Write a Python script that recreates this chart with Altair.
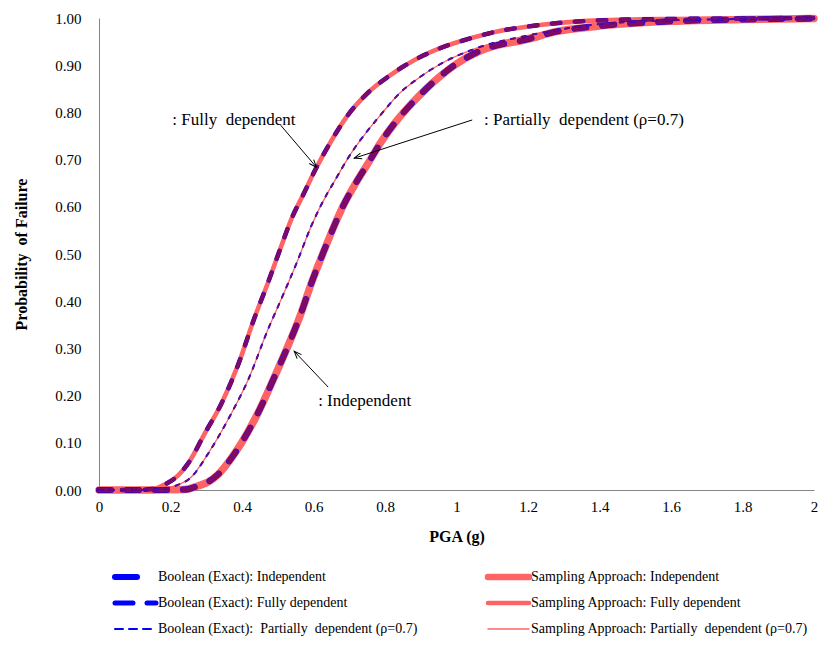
import altair as alt
import pandas as pd

# ---------------- data ----------------
curve_names = ["Independent", "Fully dependent", "Partially dependent (ρ=0.7)"]

fully_x = [0, 0.10, 0.15, 0.185, 0.22, 0.25, 0.296, 0.343, 0.389, 0.435, 0.472, 0.509, 0.537, 0.574,
           0.606, 0.65, 0.694, 0.75, 0.815, 0.88, 0.954, 1.03, 1.111, 1.2, 1.278, 1.4, 1.6, 1.8, 2.0]
fully_y = [0, 0, 0.002, 0.012, 0.03, 0.057, 0.12, 0.184, 0.265, 0.365, 0.438, 0.515, 0.572, 0.630,
           0.680, 0.74, 0.792, 0.84, 0.879, 0.91, 0.936, 0.955, 0.971, 0.982, 0.989, 0.995, 0.998, 0.999, 1.0]

partial_x = [0, 0.10, 0.17, 0.21, 0.259, 0.306, 0.37, 0.417, 0.472, 0.509, 0.556, 0.593, 0.639, 0.657,
             0.694, 0.713, 0.75, 0.787, 0.84, 0.898, 0.954, 1.056, 1.2, 1.3, 1.4, 1.6, 1.8, 2.0]
partial_y = [0, 0, 0.002, 0.008, 0.028, 0.078, 0.162, 0.233, 0.339, 0.403, 0.487, 0.558, 0.629, 0.652,
             0.700, 0.722, 0.760, 0.794, 0.84, 0.875, 0.902, 0.936, 0.963, 0.977, 0.987, 0.995, 0.998, 1.0]

indep_x = [0, 0.15, 0.24, 0.278, 0.305, 0.333, 0.365, 0.398, 0.444, 0.491, 0.528, 0.565, 0.593, 0.630,
           0.657, 0.685, 0.722, 0.759, 0.787, 0.83, 0.880, 0.944, 1.0, 1.065, 1.204, 1.278, 1.4, 1.6, 1.8, 2.0]
indep_y = [0, 0, 0.001, 0.009, 0.017, 0.033, 0.062, 0.099, 0.162, 0.24, 0.304, 0.374, 0.436, 0.508,
           0.558, 0.605, 0.655, 0.700, 0.735, 0.780, 0.823, 0.870, 0.903, 0.930, 0.956, 0.971, 0.983, 0.993, 0.997, 0.999]

x_ticks = [0, 0.2, 0.4, 0.6, 0.8, 1, 1.2, 1.4, 1.6, 1.8, 2]
y_ticks = [0, 0.1, 0.2, 0.3, 0.4, 0.5, 0.6, 0.7, 0.8, 0.9, 1.0]

NB = "\u00a0"
# annotations (data units)
ann_text = [": Fully" + NB + " dependent", ": Partially" + NB + " dependent (ρ=0.7)", ": Independent"]
ann_tx = [0.205, 1.077, 0.613]
ann_ty = [0.784, 0.784, 0.189]
arrow_x0 = [0.508, 1.044, 0.641]
arrow_y0 = [0.773, 0.784, 0.218]
arrow_x1 = [0.608, 0.714, 0.546]
arrow_y1 = [0.684, 0.703, 0.294]
arrow_ang = [138.7, 252.1, 316.6]

legend_left = ["Boolean (Exact): Independent", "Boolean (Exact): Fully dependent",
               "Boolean (Exact):" + NB + " Partially" + NB + " dependent (ρ=0.7)"]
legend_right = ["Sampling Approach: Independent", "Sampling Approach: Fully dependent",
                "Sampling Approach: Partially" + NB + " dependent (ρ=0.7)"]

# ---------------- tables ----------------
rows = []
for name, xs, ys in zip(curve_names, [indep_x, fully_x, partial_x], [indep_y, fully_y, partial_y]):
    for xv, yv in zip(xs, ys):
        rows.append({"curve": name, "pga": xv, "pf": yv})
df = pd.DataFrame(rows)

ann_df = pd.DataFrame({"text": ann_text, "tx": ann_tx, "ty": ann_ty,
                       "ax": arrow_x0, "ay": arrow_y0, "ax2": arrow_x1, "ay2": arrow_y1,
                       "ang": arrow_ang})

# ---------------- styles ----------------
FONT = "Liberation Serif"
SALMON = "#FF6464"
BLUE = "#0000FF"
PURPLE = "#7F0A66"
samp_w = {curve_names[0]: 7.5, curve_names[1]: 4.6, curve_names[2]: 1.3}
bool_w = {curve_names[0]: 6.0, curve_names[1]: 4.4, curve_names[2]: 2.0}
bool_dash = {curve_names[0]: [12, 16], curve_names[1]: [8.5, 14.5], curve_names[2]: [4, 7]}

xscale = alt.Scale(domain=[0, 2], nice=False)
yscale = alt.Scale(domain=[0, 1], nice=False)
x_axis = alt.Axis(values=x_ticks, format="~g", ticks=False, grid=False, labelFlush=False,
                  labelPadding=9, titlePadding=14)
y_axis = alt.Axis(values=y_ticks, format=".2f", ticks=False, grid=False,
                  labelPadding=18, titlePadding=25)
X_TITLE = "PGA (g)"
Y_TITLE = "Probability" + NB + " of Failure"


def xq(field):
    return alt.X(field, type="quantitative", scale=xscale, title=X_TITLE, axis=x_axis)


def yq(field):
    return alt.Y(field, type="quantitative", scale=yscale, title=Y_TITLE, axis=y_axis)


base = alt.Chart(df)
layers = []
for name in curve_names:
    layers.append(base.transform_filter(alt.datum.curve == name)
                  .mark_line(color=SALMON, strokeWidth=samp_w[name], interpolate="monotone",
                             strokeCap="round", strokeJoin="round")
                  .encode(x=xq("pga"), y=yq("pf")))
for name in curve_names:
    layers.append(base.transform_filter(alt.datum.curve == name)
                  .mark_line(color=BLUE, strokeWidth=bool_w[name], strokeDash=bool_dash[name],
                             interpolate="monotone", strokeCap="round")
                  .encode(x=xq("pga"), y=yq("pf")))
    layers.append(base.transform_filter(alt.datum.curve == name)
                  .mark_line(color=PURPLE, strokeWidth=bool_w[name] - 0.6, strokeDash=bool_dash[name],
                             interpolate="monotone", strokeCap="round")
                  .encode(x=xq("pga"), y=yq("pf")))

ann = alt.Chart(ann_df)
layers.append(ann.mark_rule(color="black", strokeWidth=1).encode(
    x=xq("ax"), y=yq("ay"), x2="ax2:Q", y2="ay2:Q"))
layers.append(ann.mark_point(shape="M-0.4,1 L0,0 L0.4,1", filled=False, color="black",
                             strokeWidth=1, size=220, opacity=1).encode(
    x=xq("ax2"), y=yq("ay2"), angle=alt.Angle("ang:Q", scale=None)))
layers.append(ann.mark_text(align="left", baseline="middle", font=FONT, fontSize=17, color="black").encode(
    x=xq("tx"), y=yq("ty"), text="text:N"))

# ---------------- custom legend (below plot) ----------------
row_y = [559, 585, 611]
leg_bool_dash = [[22, 40], [18, 14], [8, 6]]
leg_bool_w = [6, 5, 2]
leg_samp_w = [6.5, 4.5, 1.5]
for i in range(3):
    dl = alt.Chart(pd.DataFrame({"label": [legend_left[i]]}))
    layers.append(dl.mark_rule(color=BLUE, strokeWidth=leg_bool_w[i], strokeDash=leg_bool_dash[i],
                               strokeCap="round").encode(
        x=alt.value(16), x2=alt.value(57), y=alt.value(row_y[i])))
    layers.append(dl.mark_text(align="left", baseline="middle", font=FONT, fontSize=14, color="black").encode(
        x=alt.value(59), y=alt.value(row_y[i]), text="label:N"))
    dr = alt.Chart(pd.DataFrame({"label": [legend_right[i]]}))
    layers.append(dr.mark_rule(color=SALMON, strokeWidth=leg_samp_w[i], strokeCap="round").encode(
        x=alt.value(389), x2=alt.value(430), y=alt.value(row_y[i])))
    layers.append(dr.mark_text(align="left", baseline="middle", font=FONT, fontSize=14, color="black").encode(
        x=alt.value(432), y=alt.value(row_y[i]), text="label:N"))

chart = alt.layer(*layers).properties(
    width=715, height=472,
    autosize=alt.AutoSizeParams(type="none"),
    padding={"left": 91, "top": 10, "right": 5, "bottom": 146},
).configure_view(stroke=None).configure_axis(
    domainColor="#868686", domainWidth=1, labelFont=FONT, labelFontSize=15, labelColor="black",
    titleFont=FONT, titleFontSize=16, titleFontWeight="bold", titleColor="black",
)

chart.save("out.html", embed_options={"renderer": "svg", "actions": False})
